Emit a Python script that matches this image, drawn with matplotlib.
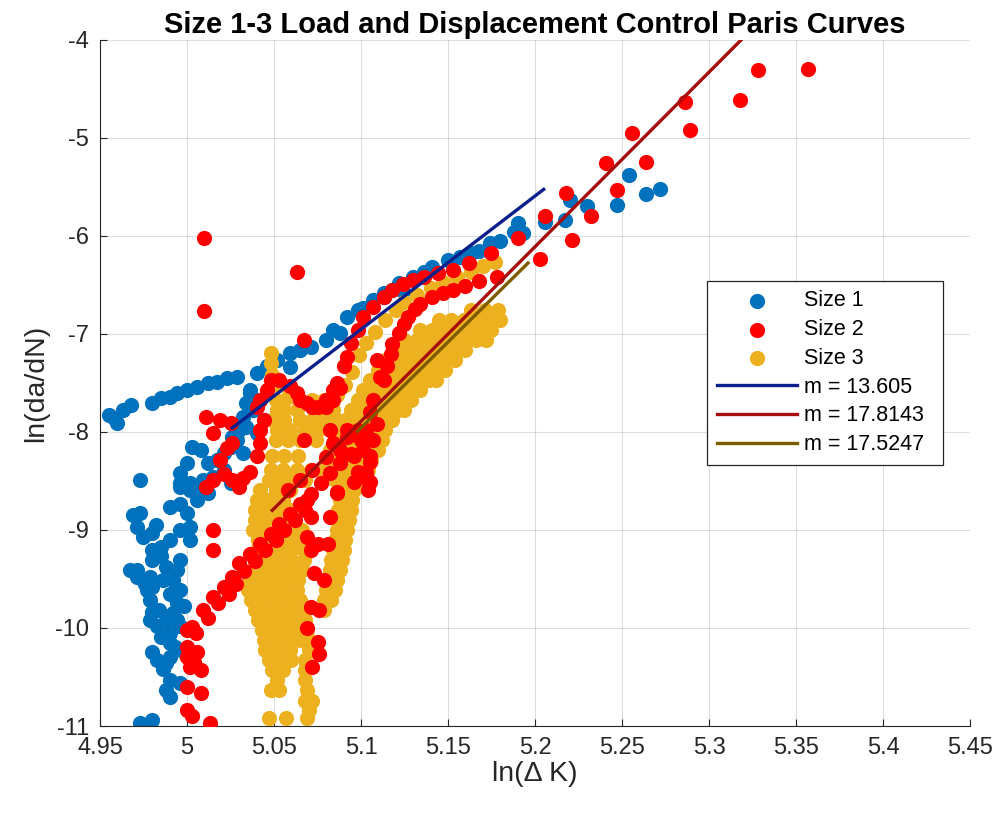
import numpy as np
import matplotlib
matplotlib.use("Agg")
import matplotlib.pyplot as plt

plt.rcParams['font.family'] = ['Liberation Sans', 'DejaVu Sans']

# ---------------- Size 1 (blue) ----------------
s1_arm_x = [4.955, 4.958, 4.960, 4.963, 4.968, 4.980, 4.985, 4.990, 4.994, 5.000, 5.006, 5.012, 5.017, 5.023, 5.029]
s1_arm_y = [-7.83, -7.86, -7.91, -7.78, -7.72, -7.70, -7.65, -7.64, -7.60, -7.57, -7.54, -7.50, -7.49, -7.45, -7.44]

s1_up_x = [5.036, 5.040, 5.046, 5.052, 5.059, 5.059, 5.065, 5.071, 5.080, 5.084, 5.088, 5.092, 5.098, 5.101,
           5.107, 5.113, 5.121, 5.124, 5.130, 5.136, 5.141, 5.150, 5.157, 5.163, 5.168, 5.174, 5.180, 5.188,
           5.190, 5.193, 5.122, 5.118, 5.113]
s1_up_y = [-7.60, -7.40, -7.33, -7.27, -7.19, -7.34, -7.16, -7.13, -7.06, -6.96, -6.99, -6.83, -6.76, -6.73,
           -6.65, -6.58, -6.52, -6.56, -6.42, -6.37, -6.32, -6.24, -6.21, -6.17, -6.15, -6.07, -6.05, -5.96,
           -5.87, -5.97, -6.48, -6.55, -6.62]

s1_right_x = [5.206, 5.217, 5.220, 5.230, 5.247, 5.254, 5.264, 5.272]
s1_right_y = [-5.86, -5.84, -5.63, -5.69, -5.68, -5.38, -5.57, -5.52]

s1_mid_x = [5.036, 5.034, 5.032, 5.030, 5.029, 5.025, 5.021, 5.017, 5.012, 5.008, 5.003, 5.000, 4.996, 4.996,
            5.002, 5.009, 5.015, 5.021, 5.025, 5.040, 5.044, 5.026, 5.034, 5.038, 5.032, 4.973]
s1_mid_y = [-7.57, -7.70, -7.85, -7.98, -8.08, -8.15, -8.21, -8.29, -8.32, -8.18, -8.15, -8.32, -8.42, -8.56,
            -8.52, -8.49, -8.46, -8.39, -8.52, -8.01, -7.88, -8.05, -7.95, -7.78, -8.21, -8.49]

s1_low_x = [4.996, 5.002, 5.009, 4.990, 4.996, 5.000, 5.006, 5.012, 4.973, 4.969, 4.971, 4.975, 4.980, 4.985,
            4.990, 4.996, 5.002, 5.002, 4.980, 4.980, 4.971, 4.967, 4.971, 4.975, 4.979, 4.988, 4.994, 4.996,
            4.986, 4.992, 4.977, 4.980, 4.979, 4.990, 4.996, 4.994, 4.998, 4.980, 4.979, 4.983, 4.985, 4.990,
            4.988, 4.994, 4.996, 4.990, 4.980, 4.983, 4.988, 4.990, 4.998, 4.990, 4.988, 4.990, 4.996, 4.973,
            4.980, 4.985, 4.984, 4.992, 4.976, 4.986, 4.993, 4.982]
s1_low_y = [-8.52, -8.59, -8.56, -8.77, -8.73, -8.83, -8.69, -8.62, -8.83, -8.85, -8.97, -9.07, -9.03, -9.17,
            -9.10, -9.00, -8.97, -9.10, -9.20, -9.31, -9.41, -9.41, -9.48, -9.51, -9.48, -9.38, -9.41, -9.31,
            -9.51, -9.51, -9.61, -9.58, -9.71, -9.65, -9.61, -9.75, -9.78, -9.84, -9.92, -9.98, -10.09, -10.05,
            -9.92, -9.92, -9.98, -10.15, -10.25, -10.33, -10.36, -10.30, -10.24, -10.53, -10.63, -10.70, -10.56, -10.97,
            -10.94, -9.27, -9.82, -9.85, -9.55, -10.42, -10.19, -8.95]

# ---------------- Size 2 (red) ----------------
s2_out_x = [5.010, 5.010, 5.063, 5.067]
s2_out_y = [-6.02, -6.77, -6.37, -7.06]

s2_right_x = [5.357, 5.328, 5.318, 5.286, 5.289, 5.256, 5.264, 5.241, 5.247, 5.218, 5.232, 5.206, 5.221, 5.203,
              5.190, 5.175]
s2_right_y = [-4.30, -4.31, -4.61, -4.63, -4.92, -4.95, -5.24, -5.26, -5.53, -5.56, -5.80, -5.80, -6.04, -6.23,
              -6.02, -6.17]

s2_up_x = [5.162, 5.153, 5.144, 5.136, 5.130, 5.124, 5.118, 5.113, 5.107, 5.101, 5.098, 5.094, 5.092, 5.090,
           5.086, 5.084, 5.080, 5.075, 5.069, 5.063, 5.059, 5.053, 5.048, 5.046, 5.042, 5.040, 5.044, 5.042,
           5.042, 5.040, 5.036, 5.032, 5.026, 5.030, 5.021, 5.015, 5.011, 5.019, 5.023, 5.015, 5.011, 5.019,
           5.025, 5.026, 5.067, 5.065, 5.072, 5.080, 5.084, 5.088]
s2_up_y = [-6.28, -6.35, -6.38, -6.42, -6.45, -6.49, -6.55, -6.62, -6.72, -6.83, -6.96, -7.09, -7.23, -7.33,
           -7.50, -7.57, -7.67, -7.74, -7.70, -7.60, -7.53, -7.47, -7.47, -7.57, -7.67, -7.74, -7.88, -7.98,
           -8.11, -8.25, -8.41, -8.47, -8.49, -8.56, -8.43, -8.49, -8.56, -8.29, -8.16, -8.01, -7.85, -7.88,
           -7.91, -8.11, -8.08, -7.67, -7.74, -7.74, -7.67, -7.55]

s2_arc_x = [5.113, 5.115, 5.117, 5.118, 5.122, 5.125, 5.127, 5.131, 5.134, 5.141, 5.147, 5.153, 5.160, 5.168,
            5.178, 5.109, 5.111, 5.107, 5.105, 5.109, 5.103, 5.100, 5.092, 5.082, 5.084, 5.088, 5.096, 5.101,
            5.105, 5.103, 5.105, 5.098, 5.096, 5.086]
s2_arc_y = [-7.47, -7.33, -7.20, -7.10, -6.99, -6.90, -6.83, -6.75, -6.69, -6.62, -6.58, -6.55, -6.51, -6.46,
            -6.42, -7.27, -7.44, -7.67, -7.80, -7.92, -7.98, -8.08, -7.98, -7.98, -8.11, -8.18, -8.25, -8.18,
            -8.31, -8.41, -8.51, -8.41, -8.51, -8.61]

s2_band_x = [5.000, 5.003, 5.009, 5.015, 5.021, 5.026, 5.030, 5.036, 5.042, 5.048, 5.053, 5.059, 5.065, 5.071,
             5.077, 5.082, 5.088, 5.094, 5.005, 5.012, 5.018, 5.024, 5.028, 5.033, 5.039, 5.045, 5.051, 5.056,
             5.062, 5.068, 5.058, 5.065, 5.072, 5.080, 5.092, 5.098]
s2_band_y = [-10.19, -9.99, -9.82, -9.68, -9.58, -9.48, -9.34, -9.24, -9.14, -9.04, -8.94, -8.84, -8.73, -8.63,
             -8.52, -8.42, -8.32, -8.22, -10.05, -9.90, -9.75, -9.65, -9.55, -9.42, -9.32, -9.20, -9.10, -9.00,
             -8.90, -8.80, -8.59, -8.49, -8.39, -8.26, -8.05, -7.98]

s2_low_x = [5.000, 5.002, 5.008, 5.000, 5.008, 5.000, 5.003, 5.013, 5.015, 5.015, 5.000, 5.006, 5.004]
s2_low_y = [-10.30, -10.40, -10.43, -10.60, -10.66, -10.84, -10.90, -10.97, -9.00, -9.20, -10.02, -10.25, -10.35]

s2_vert_x = [5.086, 5.082, 5.071, 5.069, 5.069, 5.075, 5.081, 5.071, 5.073, 5.079, 5.071, 5.076, 5.069, 5.075,
             5.076, 5.072, 5.104, 5.104, 5.107, 5.105]
s2_vert_y = [-8.62, -8.87, -8.87, -8.69, -9.07, -9.14, -9.14, -9.20, -9.44, -9.51, -9.79, -9.82, -10.00, -10.14,
             -10.27, -10.40, -8.59, -8.49, -8.08, -8.25]

# ---------------- Size 3 (yellow) ----------------
s3_band_rows = [
    (-6.76, [5.163, 5.171, 5.179]),
    (-6.86, [5.145, 5.152, 5.159, 5.166, 5.173, 5.180]),
    (-6.96, [5.134, 5.141, 5.148, 5.155, 5.162, 5.168, 5.175]),
    (-7.06, [5.125, 5.132, 5.139, 5.145, 5.152, 5.159, 5.166, 5.172]),
    (-7.16, [5.120, 5.126, 5.133, 5.140, 5.147, 5.153, 5.160]),
    (-7.27, [5.114, 5.120, 5.127, 5.134, 5.141, 5.148, 5.154]),
    (-7.37, [5.110, 5.116, 5.121, 5.128, 5.135, 5.142, 5.148]),
    (-7.47, [5.105, 5.111, 5.118, 5.125, 5.132, 5.139, 5.143]),
    (-7.57, [5.101, 5.107, 5.114, 5.121, 5.128, 5.134]),
    (-7.67, [5.098, 5.104, 5.111, 5.118, 5.125, 5.129]),
    (-7.78, [5.094, 5.101, 5.107, 5.114, 5.121, 5.125]),
    (-7.88, [5.091, 5.097, 5.104, 5.111, 5.118]),
    (-7.98, [5.088, 5.094, 5.101, 5.107, 5.114]),
    (-8.08, [5.085, 5.091, 5.098, 5.105, 5.112]),
    (-8.18, [5.082, 5.089, 5.096, 5.103, 5.110]),
    (-8.29, [5.080, 5.087, 5.094, 5.101, 5.106]),
    (-8.39, [5.079, 5.086, 5.093, 5.099, 5.104]),
    (-8.49, [5.078, 5.085, 5.091, 5.098]),
]

s3_mid_x = [5.091, 5.095, 5.099, 5.103, 5.108, 5.114, 5.120, 5.125, 5.132, 5.140, 5.147, 5.155, 5.163, 5.170,
            5.177, 5.086, 5.082, 5.076]
s3_mid_y = [-7.52, -7.39, -7.21, -7.09, -6.98, -6.86, -6.76, -6.67, -6.60, -6.53, -6.47, -6.42, -6.37, -6.31,
            -6.27, -7.62, -7.72, -7.78]

s3_left_rows = [
    (-7.19, [5.048]),
    (-7.30, [5.048]),
    (-7.42, [5.049]),
    (-7.52, [5.053]),
    (-7.64, [5.058]),
    (-7.67, [5.051, 5.065, 5.072, 5.079]),
    (-7.78, [5.052, 5.056, 5.063, 5.076, 5.084]),
    (-7.88, [5.049, 5.056, 5.065, 5.072, 5.079, 5.086]),
    (-7.98, [5.052, 5.059, 5.068, 5.075]),
    (-8.08, [5.051, 5.058, 5.065, 5.074]),
    (-8.24, [5.049, 5.056, 5.064]),
    (-8.39, [5.048, 5.055, 5.063, 5.071]),
    (-8.49, [5.047, 5.053, 5.060, 5.068]),
]

s3_low_rows = [
    (-8.59, [5.042, 5.051, 5.059, 5.089, 5.096]),
    (-8.69, [5.040, 5.047, 5.055, 5.088, 5.095]),
    (-8.80, [5.039, 5.045, 5.052, 5.059, 5.087, 5.094]),
    (-8.90, [5.039, 5.045, 5.052, 5.059, 5.086, 5.093]),
    (-9.00, [5.038, 5.045, 5.052, 5.059, 5.066, 5.086, 5.092]),
    (-9.10, [5.041, 5.048, 5.055, 5.061, 5.068, 5.085, 5.091]),
    (-9.20, [5.040, 5.047, 5.053, 5.060, 5.067, 5.084, 5.090]),
    (-9.31, [5.040, 5.046, 5.053, 5.060, 5.067, 5.083, 5.089]),
    (-9.41, [5.039, 5.045, 5.052, 5.059, 5.066, 5.082, 5.088]),
    (-9.51, [5.036, 5.043, 5.050, 5.057, 5.064, 5.081, 5.086]),
    (-9.61, [5.035, 5.042, 5.049, 5.056, 5.063, 5.080, 5.085]),
    (-9.71, [5.037, 5.044, 5.051, 5.058, 5.065, 5.079, 5.083]),
    (-9.82, [5.039, 5.045, 5.052, 5.059, 5.066, 5.079]),
    (-9.92, [5.041, 5.048, 5.055, 5.061, 5.068]),
    (-10.02, [5.043, 5.050, 5.057, 5.064, 5.069]),
    (-10.12, [5.044, 5.051, 5.058, 5.065, 5.070]),
    (-10.22, [5.045, 5.052, 5.059, 5.070]),
    (-10.33, [5.047, 5.053, 5.060, 5.068]),
    (-10.43, [5.049, 5.055, 5.068]),
    (-10.53, [5.052, 5.068]),
    (-10.63, [5.048, 5.053, 5.069]),
    (-10.74, [5.068, 5.072]),
    (-10.84, [5.070]),
    (-10.92, [5.047, 5.057, 5.069]),
]

# ---------------- Fits ----------------
fit_labels = ['m = 13.605', 'm = 17.8143', 'm = 17.5247']
fit_slopes = [13.605, 17.8143, 17.5247]
fit_intercepts = [-76.338, -98.744, -97.334]
fit_xmin = [5.026, 5.049, 5.098]
fit_xmax = [5.205, 5.319, 5.196]
fit_colors = ['#0B1F8C', '#A80D0D', '#7D5C00']

series_labels = ['Size 1', 'Size 2', 'Size 3']
series_colors = ['#0072BD', '#FF0000', '#EDB120']


def rows_to_xy(rows):
    xs, ys = [], []
    for y, xl in rows:
        for x in xl:
            xs.append(x)
            ys.append(y)
    return xs, ys


s1_x = s1_arm_x + s1_up_x + s1_right_x + s1_mid_x + s1_low_x
s1_y = s1_arm_y + s1_up_y + s1_right_y + s1_mid_y + s1_low_y
s2_x = s2_out_x + s2_right_x + s2_up_x + s2_arc_x + s2_band_x + s2_low_x + s2_vert_x
s2_y = s2_out_y + s2_right_y + s2_up_y + s2_arc_y + s2_band_y + s2_low_y + s2_vert_y
bx, by = rows_to_xy(s3_band_rows)
lx, ly = rows_to_xy(s3_left_rows)
wx, wy = rows_to_xy(s3_low_rows)
s3_x = bx + s3_mid_x + lx + wx
s3_y = by + s3_mid_y + ly + wy

fig = plt.figure(figsize=(10.03, 8.13), dpi=100)
ax = fig.add_axes([100 / 1003, 1 - 726 / 813, 870 / 1003, 686 / 813])

msize = 120
h1 = ax.scatter(s1_x, s1_y, s=msize, c=series_colors[0], linewidths=0, zorder=2, label=series_labels[0])
h3 = ax.scatter(s3_x, s3_y, s=msize, c=series_colors[2], linewidths=0, zorder=3, label=series_labels[2])
h2 = ax.scatter(s2_x, s2_y, s=msize, c=series_colors[1], linewidths=0, zorder=4, label=series_labels[1])

line_handles = []
for m, b, x0, x1, col, lab in zip(fit_slopes, fit_intercepts, fit_xmin, fit_xmax, fit_colors, fit_labels):
    xx = np.array([x0, x1])
    ln, = ax.plot(xx, np.polyval([m, b], xx), color=col, lw=2.4, zorder=5, label=lab)
    line_handles.append(ln)

ax.set_xlim(4.95, 5.45)
ax.set_ylim(-11, -4)
ax.set_xticks(np.arange(4.95, 5.451, 0.05))
ax.set_xticklabels(['4.95', '5', '5.05', '5.1', '5.15', '5.2', '5.25', '5.3', '5.35', '5.4', '5.45'])
ax.set_yticks(np.arange(-11, -3.9, 1))
ax.set_yticklabels(['-11', '-10', '-9', '-8', '-7', '-6', '-5', '-4'])
ax.grid(True, color='#000000', alpha=0.13, lw=0.8)
ax.set_axisbelow(True)
ax.tick_params(direction='in', length=5, width=0.8, colors='#262626', labelsize=17, pad=8)
for sp in ax.spines.values():
    sp.set_color('#262626')
    sp.set_linewidth(0.8)
ax.spines['top'].set_visible(False)
ax.spines['right'].set_visible(False)

ax.set_xlabel('ln(\u0394 K)', fontsize=20.5, color='#262626', labelpad=1)
ax.set_ylabel('ln(da/dN)', fontsize=20.5, color='#262626', labelpad=4)
ax.set_title('Size 1-3 Load and Displacement Control Paris Curves', fontsize=21,
             fontweight='bold', color='#000000', pad=5)

leg = ax.legend([h1, h2, h3] + line_handles, series_labels + fit_labels,
                loc='upper left', bbox_to_anchor=(0.698, 0.649, 0.271, 0.0), mode='expand',
                fontsize=15.5, frameon=True, fancybox=False, borderaxespad=0,
                handlelength=3.7, handletextpad=0.35, labelspacing=0.36, borderpad=0.45,
                markerscale=1.0)
leg.get_frame().set_edgecolor('#262626')
leg.get_frame().set_linewidth(0.9)
leg.get_frame().set_alpha(1)

fig.savefig('out.png', dpi=100)
